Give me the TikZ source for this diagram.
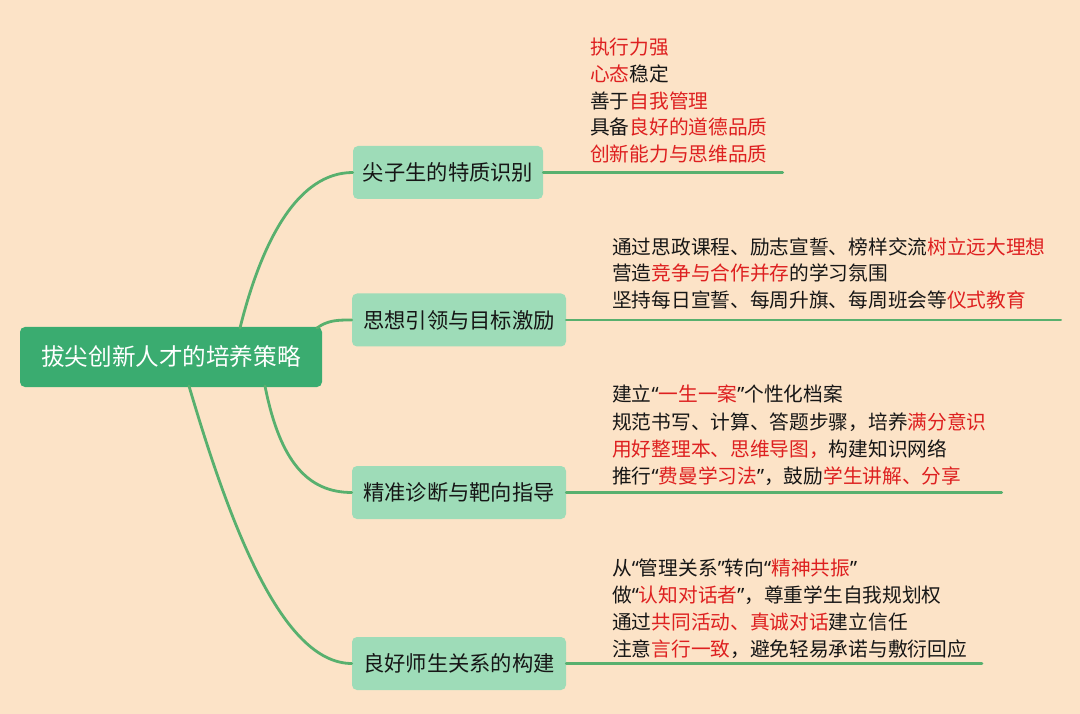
\documentclass[tikz,border=0pt]{standalone}
\usepackage{fontspec}
\usetikzlibrary{calc}
\newfontfamily\cjk{Noto Sans CJK SC}
\newfontfamily\latq{Noto Sans}
\definecolor{bg}{RGB}{252,227,199}
\definecolor{rootfill}{RGB}{58,172,112}
\definecolor{brfill}{RGB}{158,220,184}
\definecolor{lnc}{RGB}{88,176,110}
\definecolor{hl}{RGB}{222,32,32}
\definecolor{ink}{RGB}{22,22,22}
\newcommand{\R}[1]{\textcolor{hl}{#1}}
\newcommand{\oq}{{\latq “}}
\newcommand{\cq}{{\latq ”}}
\begin{document}
\begin{tikzpicture}[x=1pt,y=-1pt,
  root/.style={fill=rootfill, rounded corners=5pt, minimum width=302pt, minimum height=60pt,
    text=white, font=\cjk\fontsize{23.6}{28}\selectfont, inner sep=0pt},
  branch/.style={fill=brfill, rounded corners=5pt, minimum height=53pt, minimum width=214pt,
    text=ink, font=\cjk\fontsize{21.3}{26}\selectfont, inner sep=0pt},
  txt/.style={anchor=base west, inner sep=0pt, text=ink, font=\cjk\fontsize{19.7}{26}\selectfont},
  ln/.style={draw=lnc, line width=2.8pt, line cap=round}]
\fill[bg] (0,0) rectangle (1080,714);
\useasboundingbox (0,0) rectangle (1080,714);

% connector start points on the root's edge
\coordinate (r1) at (240,328);
\coordinate (r2) at (317,328);
\coordinate (r3) at (265,386);
\coordinate (r4) at (189,386);

\node[root] (root) at (171,357) {拔尖创新人才的培养策略};
\node[branch, minimum width=190pt] (b1) at (448,172.5) {尖子生的特质识别};
\node[branch] (b2) at (459,320) {思想引领与目标激励};
\node[branch] (b3) at (459,492.5) {精准诊断与靶向指导};
\node[branch] (b4) at (459,663.5) {良好师生关系的构建};

\draw[ln] (r1) .. controls (262,240) and (298,172.5) .. (b1.west);
\draw[ln] (r2) .. controls (328,320) and (338,320) .. (b2.west);
\draw[ln] (r3) .. controls (280,462) and (308,492.5) .. (b3.west);
\draw[ln] (r4) .. controls (230,525) and (282,663.5) .. (b4.west);

% branch 1 texts
\node[txt] (t1a) at (590,54.5) {\R{执行力强}};
\node[txt] (t1b) at (590,81.3) {\R{心态}稳定};
\node[txt] (t1c) at (590,108.1) {善于\R{自我管理}};
\node[txt] (t1d) at (590,134.9) {具备\R{良好的道德品质}};
\node[txt] (t1e) at (590,161.7) {\R{创新能力与思维品质}};
\draw[ln] (b1.east) -- ($(b1.east -| t1d.east)+(15,0)$);

% branch 2 texts
\node[txt] (t2a) at (612,254.5) {通过思政课程、励志宣誓、榜样交流\R{树立远大理想}};
\node[txt] (t2b) at (612,281) {营造\R{竞争与合作并存}的学习氛围};
\node[txt] (t2c) at (612,307.5) {坚持每日宣誓、每周升旗、每周班会等\R{仪式教育}};
\draw[ln] (b2.east) -- ($(b2.east -| t2a.east)+(15,0)$);

% branch 3 texts
\node[txt] (t3a) at (612,401.5) {建立\oq\R{一生一案}\cq 个性化档案};
\node[txt] (t3b) at (612,429) {规范书写、计算、答题步骤，培养\R{满分意识}};
\node[txt] (t3c) at (612,456) {\R{用好整理本、思维导图，}构建知识网络};
\node[txt] (t3d) at (612,483) {推行\oq\R{费曼学习法}\cq，鼓励\R{学生讲解、分享}};
\draw[ln] (b3.east) -- ($(b3.east -| t3b.east)+(15,0)$);

% branch 4 texts
\node[txt] (t4a) at (612,575.5) {从\oq 管理关系\cq 转向\oq\R{精神共振}\cq};
\node[txt] (t4b) at (612,602.5) {做\oq\R{认知对话者}\cq，尊重学生自我规划权};
\node[txt] (t4c) at (612,629.5) {通过\R{共同活动、真诚对话}建立信任};
\node[txt] (t4d) at (612,656.5) {注意\R{言行一致}，避免轻易承诺与敷衍回应};
\draw[ln] (b4.east) -- ($(b4.east -| t4d.east)+(15,0)$);
\end{tikzpicture}
\end{document}
